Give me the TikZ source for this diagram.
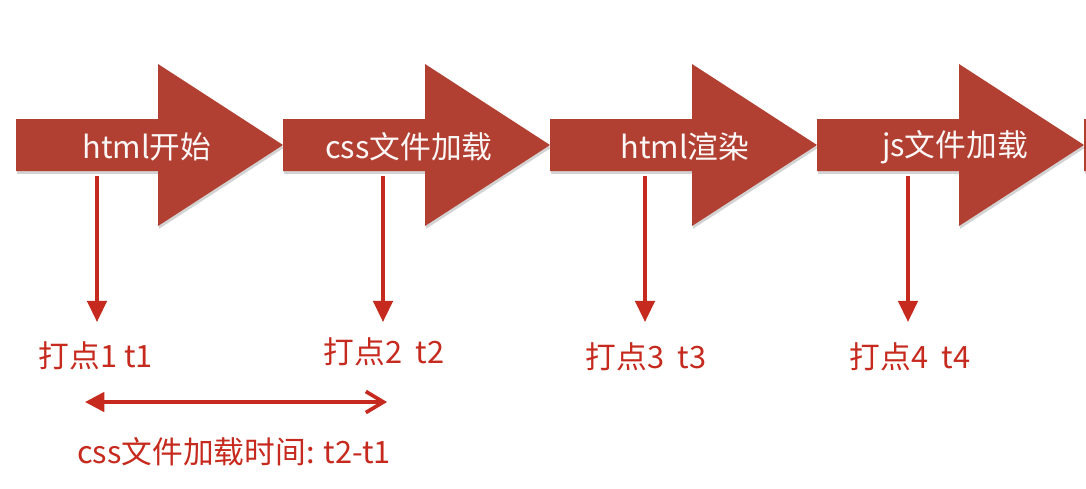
\documentclass[tikz,border=0pt]{standalone}
\usepackage{fontspec}
\setmainfont{Noto Sans CJK SC}
\usetikzlibrary{arrows.meta,shadows}
\definecolor{stepR}{RGB}{178,64,50}
\definecolor{markR}{RGB}{198,42,30}

\begin{document}
\begin{tikzpicture}[x=0.02cm,y=-0.02cm,
  stage/.style={fill=stepR,drop shadow={shadow xshift=0.6pt,shadow yshift=-1.6pt,opacity=0.35}},
  stagetxt/.style={text=white!96!stepR,font=\fontsize{17.5}{21}\selectfont,inner sep=0pt},
  marktxt/.style={text=markR,font=\fontsize{17.5}{21}\selectfont,inner sep=0pt},
  markline/.style={markR,line width=2pt,-{Triangle[length=12pt,width=11pt]}}]
\useasboundingbox (0,0) rectangle (1086,488);
% stage arrows, body 142 px, head 125 px
\foreach \s in {16,283,550,817,1084}
  \fill[stage] (\s,119) -- ++(142,0) -- ++(0,-55) -- ++(125,81) -- ++(-125,81) -- ++(0,-55) -- (\s,171) -- cycle;
\node[stagetxt] (html) at (147,147) {html开始};
\node[stagetxt] (css)  at (409,147) {css文件加载};
\node[stagetxt] (rend) at (685,147) {html渲染};
\node[stagetxt] (js)   at (955,147) {js文件加载};
% timing marks
\node[marktxt] (t1) at (96,356) {打点1 t1};
\node[marktxt] (t2) at (384,352) {打点2\ \ t2};
\node[marktxt] (t3) at (646,357) {打点3\ \ t3};
\node[marktxt] (t4) at (910,357) {打点4\ \ t4};
\coordinate (m1) at (97,176);
\coordinate (m2) at (383,176);
\coordinate (m3) at (645,176);
\coordinate (m4) at (908,176);
\draw[markline] (m1) -- (m1 |- 0,322);
\draw[markline] (m2) -- (m2 |- 0,322);
\draw[markline] (m3) -- (m3 |- 0,322);
\draw[markline] (m4) -- (m4 |- 0,322);
% css load span
\coordinate (d1) at (85,402);
\coordinate (d2) at (387,402);
\draw[markR,line width=2.1pt,{Triangle[length=11pt,width=11pt]}-{Straight Barb[length=10pt,width=12pt,line width=2.1pt]}] (d1) -- (d2);
\node[marktxt] (span) at (234,452) {css文件加载时间: t2-t1};
\end{tikzpicture}
\end{document}
